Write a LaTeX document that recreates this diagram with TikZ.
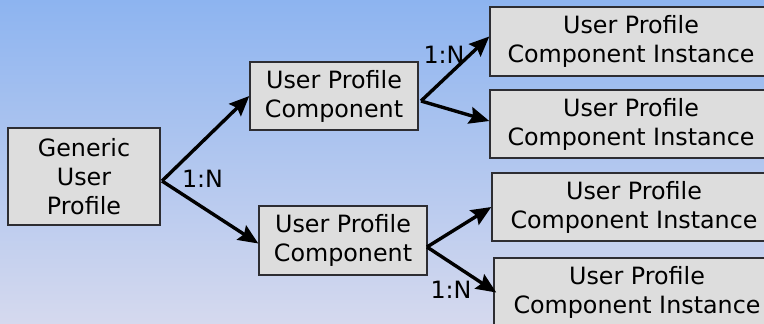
\documentclass[tikz,border=0pt]{standalone}
\usepackage{fontspec}
\setmainfont{DejaVu Sans}
\usetikzlibrary{arrows.meta}
\definecolor{bgtop}{RGB}{141,180,240}
\definecolor{bgbot}{RGB}{213,217,238}
\definecolor{boxfill}{RGB}{221,221,221}
\definecolor{boxline}{RGB}{45,45,50}
\tikzset{
  box/.style={draw=boxline, line width=1.4pt, fill=boxfill, rectangle, inner sep=0pt,
    align=center, font=\fontsize{23.8}{29}\selectfont},
  conn/.style={line width=3.4pt, -{Stealth[length=20pt,width=17pt,inset=3pt]}},
  lbl/.style={font=\fontsize{23.8}{29}\selectfont, inner sep=0pt, anchor=base}
}
\begin{document}
\begin{tikzpicture}[x=1pt,y=-1pt]
\useasboundingbox (0,0) rectangle (764,324);
\clip (0,0) rectangle (764,324);
\shade[top color=bgtop, bottom color=bgbot] (0,0) rectangle (764,324);
% boxes
\node[box, minimum width=152pt, minimum height=97pt] (gen) at (84,176.5) {Generic\\User\\Profile};
\node[box, minimum width=168pt, minimum height=68pt] (upc1) at (334,96) {User Profile\\Component};
\node[box, minimum width=168pt, minimum height=69pt] (upc2) at (343,240.5) {User Profile\\Component};
\node[box, minimum width=282pt, minimum height=69pt] (i1) at (631,41.5) {User Profile\\Component Instance};
\node[box, minimum width=282pt, minimum height=68pt] (i2) at (631,124) {User Profile\\Component Instance};
\node[box, minimum width=284pt, minimum height=68pt] (i3) at (634,207) {User Profile\\Component Instance};
\node[box, minimum width=286pt, minimum height=69pt] (i4) at (637,292.5) {User Profile\\Component Instance};
% connector origins
\coordinate (g0) at (162,181);
\coordinate (u10) at (421,101);
\coordinate (u20) at (427,247);
\draw[conn] (g0) -- (upc1.west);
\draw[conn] (g0) -- ([yshift=-3pt]upc2.west);
\draw[conn] (u10) -- ([yshift=5pt]i1.west);
\draw[conn] (u10) -- ([yshift=3pt]i2.west);
\draw[conn] (u20) -- (i3.west);
\draw[conn] (u20) -- ([xshift=3pt]i4.west);
% labels
\node[lbl] (l1) at (202.5,187) {1:N};
\node[lbl] (l2) at (444,63) {1:N};
\node[lbl] (l3) at (451,298) {1:N};
\end{tikzpicture}
\end{document}
